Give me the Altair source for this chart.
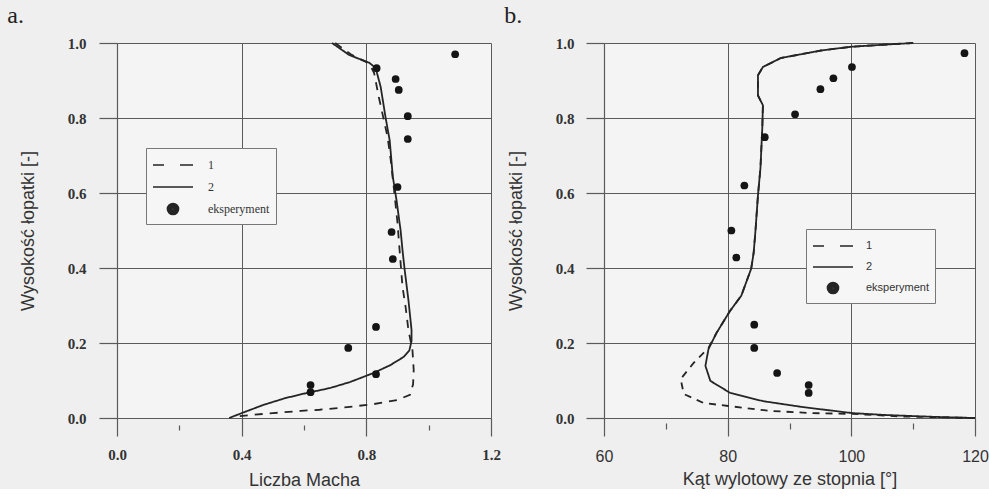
import altair as alt
import pandas as pd

# ---------------- panel a : Mach number ----------------
a_exp_mach = [1.085, 0.833, 0.894, 0.904, 0.933, 0.933, 0.900, 0.881, 0.885, 0.831, 0.742, 0.831, 0.621, 0.621]
a_exp_h = [0.970, 0.933, 0.904, 0.875, 0.805, 0.744, 0.616, 0.496, 0.424, 0.243, 0.187, 0.117, 0.088, 0.069]

a_l2_mach = [0.69, 0.745, 0.81, 0.83, 0.846, 0.862, 0.875, 0.885, 0.897, 0.91, 0.916, 0.923, 0.935, 0.945,
             0.945, 0.938, 0.92, 0.877, 0.823, 0.748, 0.684, 0.60, 0.54, 0.47, 0.40, 0.36]
a_l2_h = [1.0, 0.968, 0.947, 0.933, 0.883, 0.80, 0.74, 0.643, 0.58, 0.50, 0.448, 0.395, 0.315, 0.235,
          0.205, 0.18, 0.163, 0.141, 0.12, 0.096, 0.08, 0.065, 0.053, 0.035, 0.013, 0.0]

a_l1_mach = [0.70, 0.75, 0.81, 0.825, 0.84, 0.868, 0.878, 0.89, 0.90, 0.91, 0.916, 0.926, 0.935, 0.948,
             0.952, 0.95, 0.94, 0.90, 0.823, 0.739, 0.65, 0.59, 0.50, 0.43, 0.38]
a_l1_h = [1.0, 0.97, 0.945, 0.92, 0.856, 0.75, 0.69, 0.60, 0.52, 0.413, 0.35, 0.296, 0.235, 0.181,
          0.128, 0.09, 0.062, 0.048, 0.037, 0.029, 0.022, 0.019, 0.013, 0.008, 0.004]

# ---------------- panel b : exit angle ----------------
b_exp_ang = [118.3, 100.1, 97.1, 95.0, 90.9, 86.0, 82.7, 80.6, 81.4, 84.3, 84.3, 88.0, 93.1, 93.1]
b_exp_h = [0.973, 0.936, 0.906, 0.877, 0.810, 0.749, 0.620, 0.500, 0.428, 0.249, 0.187, 0.120, 0.088, 0.067]

b_l2_ang = [110.0, 104.8, 100.0, 95.1, 88.6, 85.7, 84.9, 84.9, 85.7, 85.6, 85.3, 84.9, 84.5, 84.2, 83.8,
            82.2, 80.4, 78.2, 76.9, 76.4, 77.2, 80.4, 85.7, 92.2, 100.2, 105.5, 113.5, 120.0]
b_l2_h = [1.0, 0.995, 0.99, 0.98, 0.96, 0.936, 0.914, 0.86, 0.834, 0.773, 0.666, 0.594, 0.50, 0.44, 0.398,
          0.326, 0.286, 0.227, 0.184, 0.139, 0.099, 0.067, 0.045, 0.029, 0.013, 0.008, 0.003, 0.0]

b_l1_ang = [110.0, 104.8, 100.0, 95.1, 88.6, 85.7, 84.9, 84.9, 85.7, 85.6, 85.3, 84.9, 84.5, 84.2, 83.8,
            82.2, 80.4, 78.2, 76.9, 74.5, 72.4, 72.9, 76.1, 80.1, 86.8, 93.8, 100.2, 108.2, 120.0]
b_l1_h = [1.0, 0.995, 0.99, 0.98, 0.96, 0.936, 0.914, 0.86, 0.834, 0.773, 0.666, 0.594, 0.50, 0.44, 0.398,
          0.326, 0.286, 0.227, 0.187, 0.147, 0.104, 0.064, 0.04, 0.032, 0.019, 0.013, 0.011, 0.004, 0.0]

series_names = ["1", "2", "eksperyment"]
x_ticks_a = [0.0, 0.2, 0.4, 0.6, 0.8, 1.0, 1.2]
x_ticks_b = [60, 70, 80, 90, 100, 110, 120]
y_ticks = [0.0, 0.1, 0.2, 0.3, 0.4, 0.5, 0.6, 0.7, 0.8, 0.9, 1.0]


def lines_df(x1, y1, x2, y2):
    rows = []
    for i, (x, y) in enumerate(zip(x1, y1)):
        rows.append({"x": x, "h": y, "series": "1", "i": i})
    for i, (x, y) in enumerate(zip(x2, y2)):
        rows.append({"x": x, "h": y, "series": "2", "i": i})
    return pd.DataFrame(rows)


def pts_df(x, y):
    return pd.DataFrame({"x": x, "h": y, "series": ["eksperyment"] * len(x)})


INK = "#252525"
GRID = "#5a5a5a"
TXT = "#333333"
SERIF = "Liberation Serif"
SANS = "Liberation Sans"

# legend symbols (custom paths, unit = sqrt(size)/2 px)
SYM_DASH = "M-1,0H0.1M1.7,0H3"
SYM_SOLID = "M-1,0H3"


def ring(r):
    return f"M{1 + r},0A{r},{r} 0 1,1 {1 - r},0A{r},{r} 0 1,1 {1 + r},0Z"


SYM_DOT = ring(0.55) + ring(0.42) + ring(0.29) + ring(0.16) + ring(0.05)


def cond(test, major, minor):
    return {"condition": {"test": test, "value": major}, "value": minor}


def make_axis(values, fmt, test, title, label_font, label_size, label_weight, orient,
              minor_dash, label_pad, title_pad):
    return alt.Axis(
        values=values, format=fmt, orient=orient,
        labelExpr=f"({test}) ? datum.label : ''",
        tickSize=18,
        tickDash=cond(test, [], minor_dash),
        gridOpacity=cond(test, 1, 0),
        grid=True, gridColor=GRID, gridWidth=1,
        tickColor=GRID, tickWidth=1.2, domainColor=GRID, domainWidth=1.2,
        labelFont=label_font, labelFontSize=label_size, labelFontWeight=label_weight,
        labelColor=TXT, labelPadding=label_pad, labelFlush=False,
        title=title, titleFont=SANS, titleFontSize=18, titleFontWeight="normal",
        titleColor=TXT, titlePadding=title_pad,
    )


def panel(lines, pts, xdom, xaxis, yaxis, legend, dash, title, width):
    xs = alt.Scale(domain=xdom, nice=False, zero=False)
    ys = alt.Scale(domain=[0, 1], nice=False)
    line = alt.Chart(lines).mark_line(color=INK, strokeWidth=1.8).encode(
        x=alt.X("x:Q", scale=xs, axis=xaxis), y=alt.Y("h:Q", scale=ys, axis=yaxis), order="i:Q",
        strokeDash=alt.StrokeDash("series:N", scale=alt.Scale(domain=["1", "2"], range=[dash, [1, 0]]),
                                  legend=None),
    )
    dots = alt.Chart(pts).mark_circle(size=60, color="#151515", opacity=1).encode(
        x=alt.X("x:Q"), y=alt.Y("h:Q"))
    leg = alt.Chart(pts).transform_filter("false").mark_point(
        filled=False, color=INK, opacity=1, strokeWidth=1.7).encode(
        x=alt.X("x:Q"), y=alt.Y("h:Q"),
        shape=alt.Shape("series:N", scale=alt.Scale(domain=series_names,
                                                      range=[SYM_DASH, SYM_SOLID, SYM_DOT]),
                        legend=legend),
    )
    return alt.layer(line, dots, leg).properties(width=width, height=375, title=title)


MAJ_A = "abs(datum.value/0.4-round(datum.value/0.4))<0.01"
MAJ_B = "datum.value % 20 == 0"
MAJ_Y = "abs(datum.value*5-round(datum.value*5))<0.01"

xa = make_axis(x_ticks_a, ".1f", MAJ_A, "Liczba Macha", SERIF, 15, "bold", "bottom", [0, 7, 5, 40], 11, 9)
ya = make_axis(y_ticks, ".1f", MAJ_Y, "Wysokość łopatki [-]", SERIF, 15, "bold", "left", [0, 1, 7, 40], 13, 30)
xb = make_axis(x_ticks_b, "d", MAJ_B, "Kąt wylotowy ze stopnia [°]", SANS, 16, "normal", "bottom", [0, 5, 6, 40], 12, 6)
yb = make_axis(y_ticks, ".1f", MAJ_Y, "Wysokość łopatki [-]", SERIF, 15, "bold", "left", [0, 1, 6, 40], 12, 30)


def legend(x, y, font, size, offset):
    return alt.Legend(
        title=None, orient="none", legendX=x, legendY=y,
        symbolSize=400, symbolStrokeWidth=1.7, symbolStrokeColor=INK, symbolFillColor=INK,
        symbolOpacity=1,
        labelFont=font, labelFontSize=size, labelColor=TXT, labelOffset=offset,
        padding=6, rowPadding=5, strokeColor="#777", fillColor="#f6f6f6",
    )


title_a = alt.TitleParams("a.", anchor="start", frame="bounds", font=SERIF, fontSize=24,
                          fontWeight="normal", color="#222", dx=-12, offset=8)
title_b = alt.TitleParams("b.", anchor="start", frame="bounds", font=SERIF, fontSize=24,
                          fontWeight="normal", color="#222", dx=-3, offset=8)

pa = panel(lines_df(a_l1_mach, a_l1_h, a_l2_mach, a_l2_h), pts_df(a_exp_mach, a_exp_h), [0, 1.2],
           xa, ya, legend(29, 105, SERIF, 12, 34), [8, 7], title_a, 374)
pb = panel(lines_df(b_l1_ang, b_l1_h, b_l2_ang, b_l2_h), pts_df(b_exp_ang, b_exp_h), [60, 120],
           xb, yb, legend(202, 186, SANS, 11, 32), [7, 6], title_b, 371)

chart = alt.hconcat(pa, pb, spacing=3).resolve_scale(shape="independent", strokeDash="independent").properties(
    padding={"left": 7, "top": 4, "right": 0, "bottom": 0},
    background="#efefef",
).configure_view(stroke=None, fill="#f4f4f4")

chart.save("out.html", embed_options={"renderer": "svg", "actions": False})
